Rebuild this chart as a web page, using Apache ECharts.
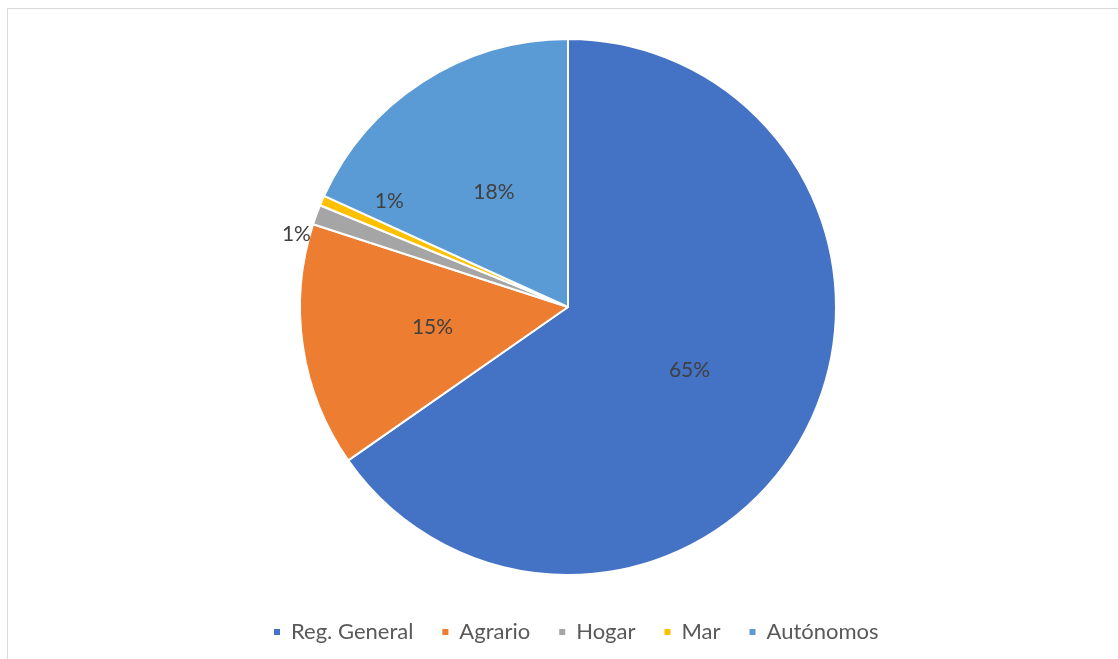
<!DOCTYPE html>
<html>
<head>
<meta charset="utf-8">
<script src="https://cdn.jsdelivr.net/npm/echarts@6/dist/echarts.min.js"></script>
<style>
  html, body { margin: 0; padding: 0; background: #fff; overflow: hidden; }
  #frame { position: absolute; left: 7px; top: 8px; width: 1200px; height: 700px; border: 1px solid #d9d9d9; box-sizing: border-box; }
  #chart { position: absolute; left: 0; top: 0; width: 1118px; height: 659px; }
</style>
</head>
<body>
<div id="frame"></div>
<div id="chart"></div>
<script>
const categories = ['Reg. General', 'Agrario', 'Hogar', 'Mar', 'Autónomos'];
const values = [65.3, 14.7, 1.2, 0.6, 18.2];
const colors = ['#4472C4', '#ED7D31', '#A5A5A5', '#FFC000', '#5B9BD5'];

const chart = echarts.init(document.getElementById('chart'));
const labelShift = { 2: { dx: -143, dy: -26 }, 3: { dx: -53, dy: -51 } };

chart.setOption({
  animation: false,
  color: colors,
  legend: {
    data: categories,
    left: 267,
    top: 616,
    icon: 'rect',
    itemWidth: 8,
    itemHeight: 8,
    itemGap: 27,
    textStyle: { fontFamily: 'Lato', fontSize: 22, color: '#595959', padding: [0, 0, 0, 5] }
  },
  series: [{
    type: 'pie',
    center: [568, 307],
    radius: 268,
    startAngle: 90,
    clockwise: true,
    avoidLabelOverlap: false,
    itemStyle: { borderColor: '#fff', borderWidth: 2 },
    label: {
      show: true,
      position: 'inside',
      formatter: p => Math.round(p.percent) + '%',
      fontFamily: 'Lato',
      fontSize: 21,
      color: '#404040'
    },
    labelLine: { show: false },
    emphasis: { disabled: true },
    labelLayout: p => labelShift[p.dataIndex] || {},
    data: categories.map((c, i) => ({ name: c, value: values[i] }))
  }]
});
</script>
</body>
</html>
